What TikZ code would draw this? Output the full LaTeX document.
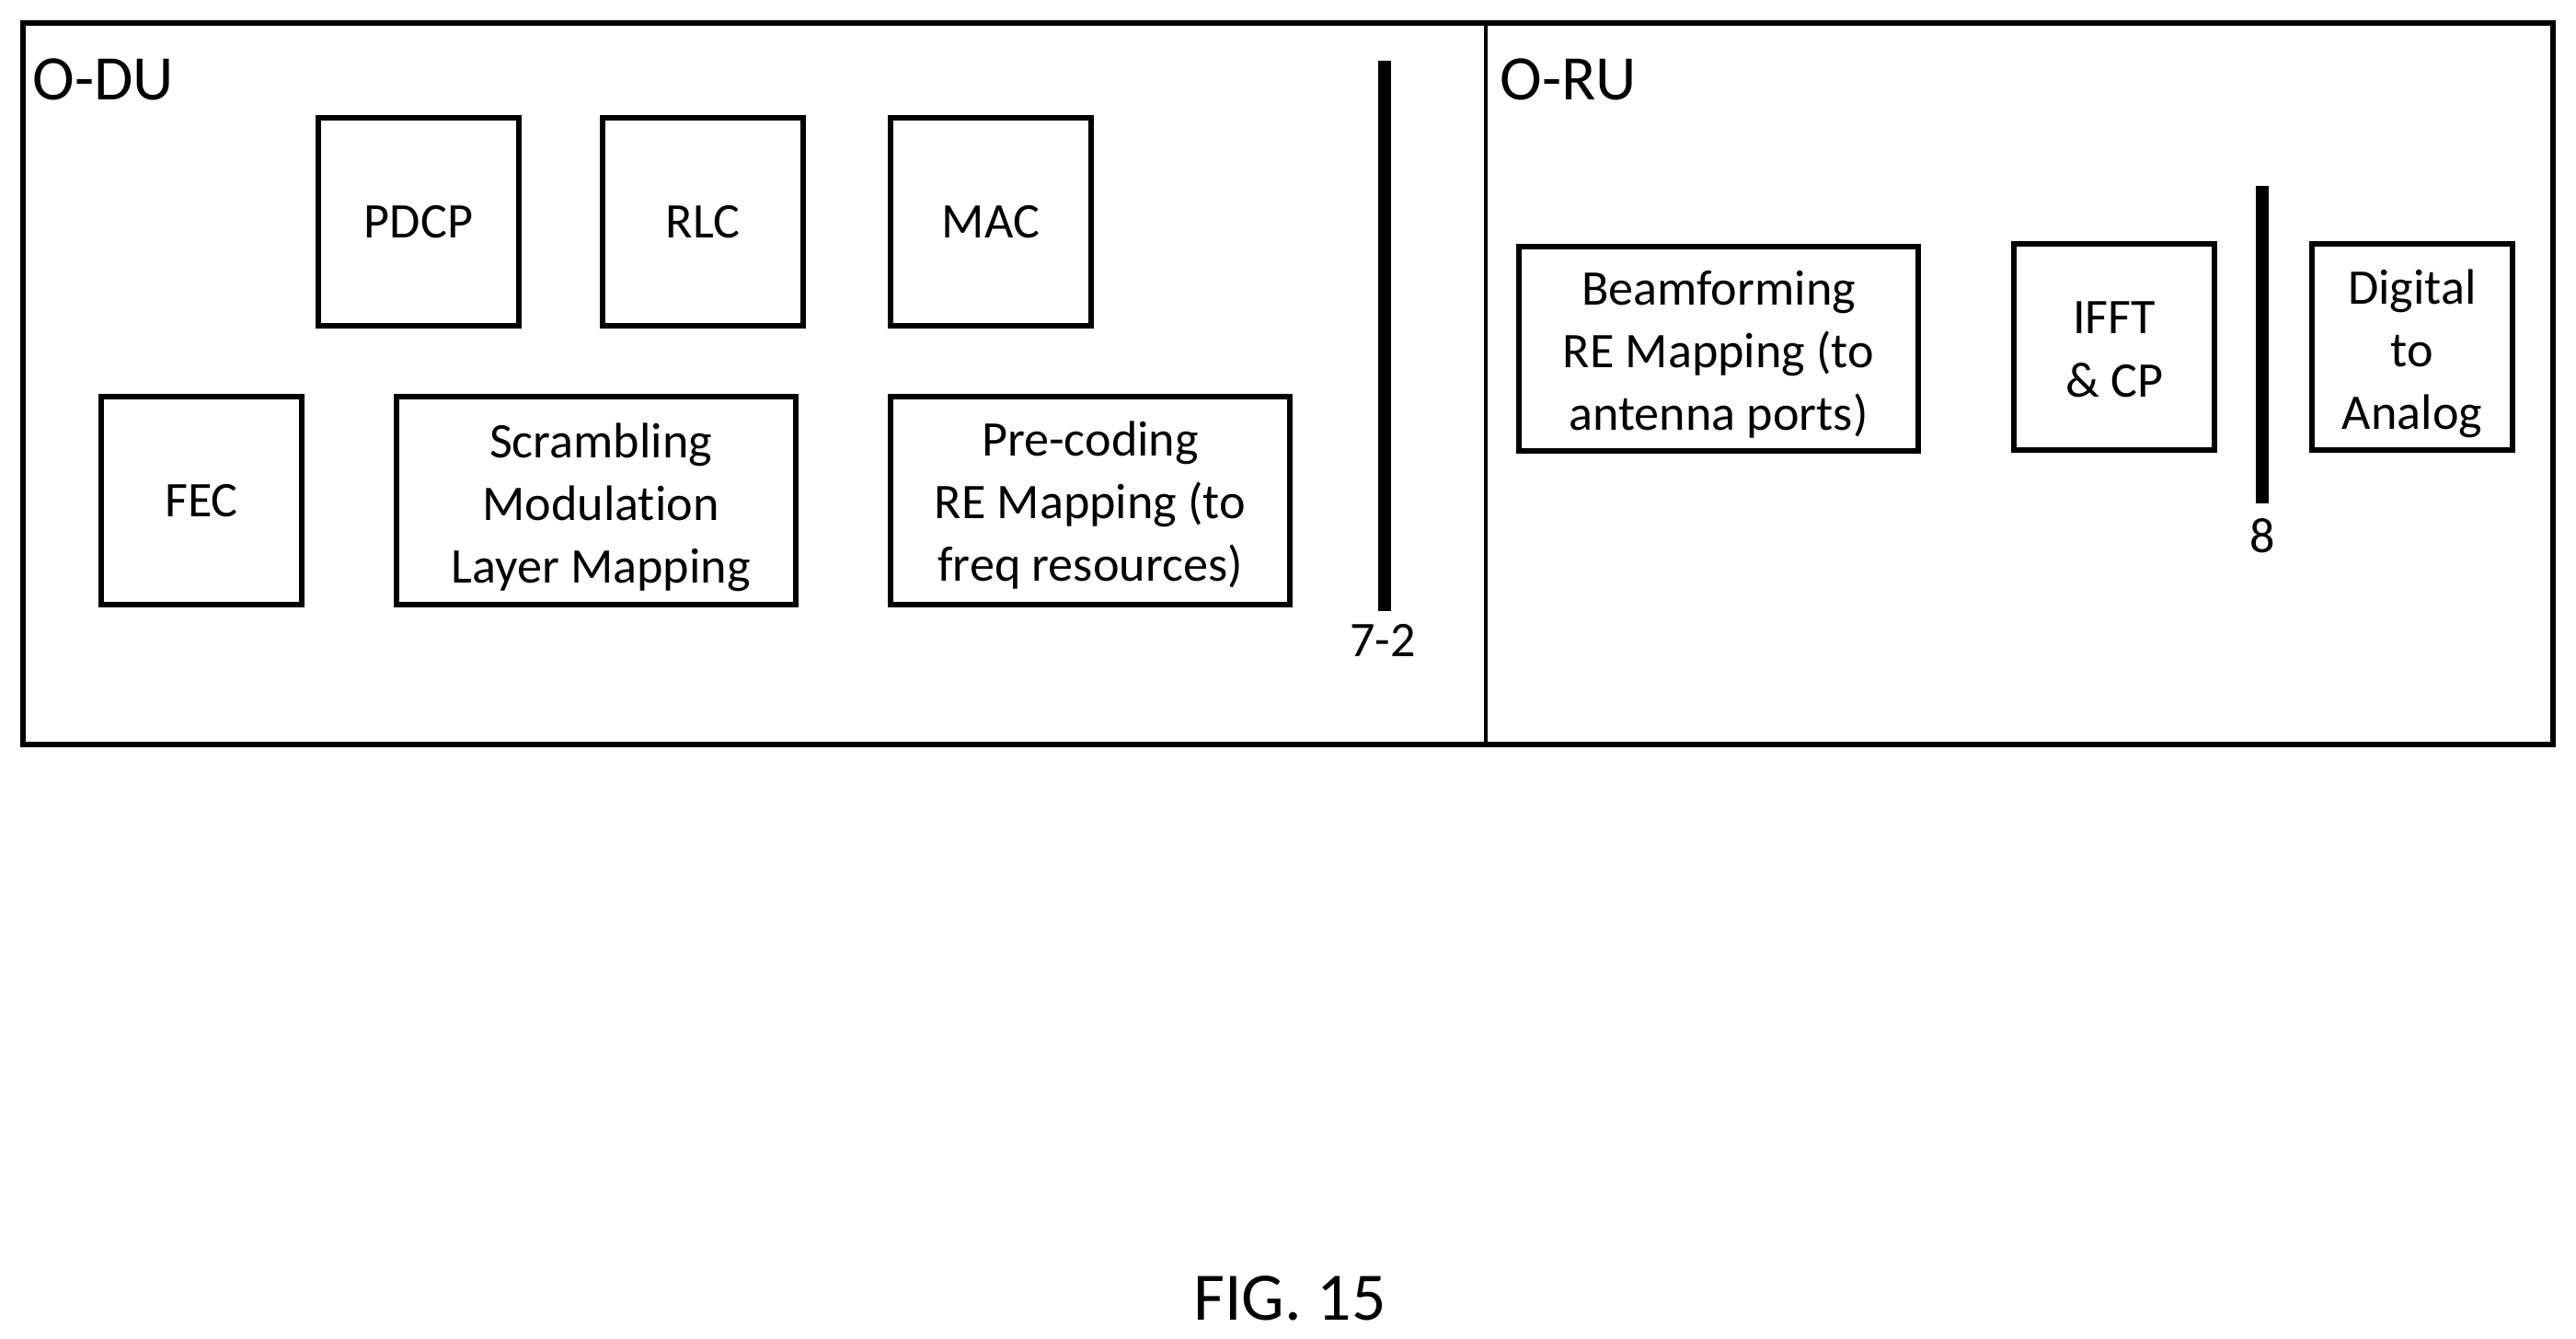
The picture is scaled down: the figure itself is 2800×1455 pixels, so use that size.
\documentclass[tikz,border=0pt]{standalone}
\usepackage{fontspec}
\setmainfont{Carlito}[Ligatures=NoCommon]
\newcommand{\dropline}[1]{\rule{0pt}{#1}}
\tikzset{
  block/.style={draw,line width=1.7pt,align=center,inner sep=0pt,font=\fontsize{15.4}{19.4}\selectfont},
  smallblock/.style={block,minimum width=2.18cm,minimum height=2.25cm},
  wideblock/.style={block,minimum width=4.34cm,minimum height=2.25cm},
  splitbar/.style={line width=4pt},
  splitlabel/.style={inner sep=0pt,font=\fontsize{15.4}{19}\selectfont},
  unitlabel/.style={inner sep=0pt,anchor=west,font=\fontsize{19.6}{24}\selectfont}
}

\begin{document}
\begin{tikzpicture}[x=.01cm,y=-.01cm]
    \useasboundingbox (0,0) rectangle (2800,1455);

    % frame
    \path (25,25) coordinate (frameNW); \path (2775,809) coordinate (frameSE);
    \path (1615,25) coordinate (midN); \path (1615,809) coordinate (midS);
    \draw[line width=1.7pt] (frameNW) rectangle (frameSE);
    \draw[line width=1.2pt] (midN) to (midS);
    \node[unitlabel] (odu) at (35,86) {O-DU};
    \node[unitlabel] (oru) at (1630,86) {O-RU};

    % upper row
    \foreach \name/\x/\txt in {pdcp/455/PDCP,rlc/764/RLC,mac/1077/MAC}
    { \node[smallblock] (\name) at (\x,241) {\txt}; }

    % lower row
    \node[smallblock] (fec) at (219,544) {FEC};
    \node[wideblock] (scr) at (648,544) {\dropline{15pt}\hspace*{.1cm}Scrambling\\\hspace*{.1cm}Modulation\\\hspace*{.1cm}Layer Mapping};
    \node[wideblock] (pre) at (1185,544) {\dropline{13.5pt}Pre-coding\\RE Mapping (to\\freq resources)};

    % split 7-2
    \path (1505,66) coordinate (bar7N); \path (1505,664) coordinate (bar7S);
    \draw[splitbar] (bar7N) to (bar7S);
    \node[splitlabel] (lab7) at (1503,696) {7-2};

    % radio side
    \node[wideblock,minimum height=2.21cm] (beam) at (1868,379) {\dropline{14pt}Beamforming\\RE Mapping (to\\antenna ports)};
    \node[smallblock,minimum height=2.23cm] (ifft) at (2298,377) {\dropline{11.5pt}IFFT\\\& CP};
    \node[smallblock,minimum height=2.23cm] (dac) at (2622,377) {\dropline{15pt}Digital\\to\\Analog};

    % split 8
    \path (2459,202) coordinate (bar8N); \path (2459,547) coordinate (bar8S);
    \draw[splitbar] (bar8N) to (bar8S);
    \node[splitlabel] (lab8) at (2459,582) {8};

    \node[inner sep=0pt,font=\fontsize{21}{25}\selectfont] (fig) at (1402,1411) {FIG. 15};
\end{tikzpicture}
\end{document}
